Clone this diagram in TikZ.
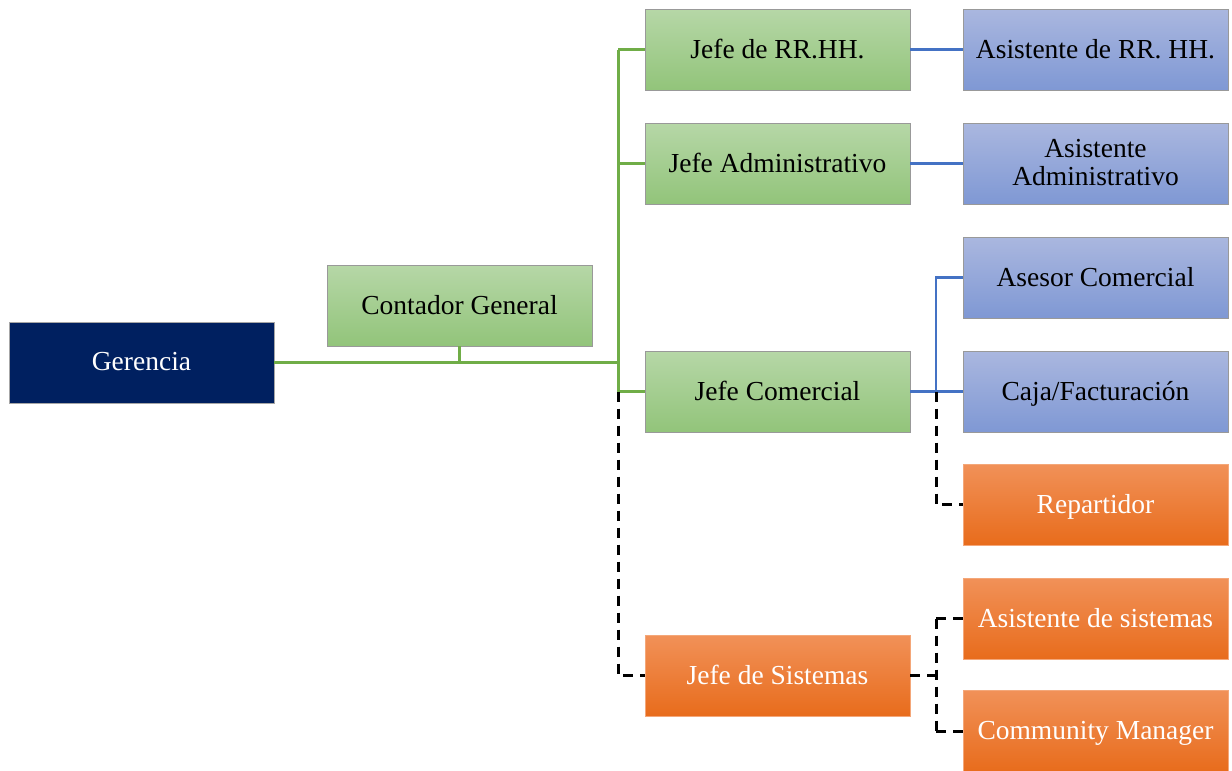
\documentclass[tikz,border=0pt]{standalone}
\usepackage{fontspec}
\setmainfont{Liberation Serif}
\begin{document}
\definecolor{gTop}{RGB}{182,215,167}
\definecolor{gBot}{RGB}{146,196,122}
\definecolor{bTop}{RGB}{170,183,223}
\definecolor{bBot}{RGB}{127,152,212}
\definecolor{oTop}{RGB}{241,145,88}
\definecolor{oBot}{RGB}{232,108,28}
\definecolor{navy}{RGB}{0,32,96}
\definecolor{gLine}{RGB}{112,173,71}
\definecolor{bLine}{RGB}{68,114,196}
\begin{tikzpicture}[x=1pt,y=-1pt,
  box/.style={minimum width=265pt,minimum height=81pt,inner sep=2pt,align=center,
    font=\fontsize{27.5}{30}\selectfont,text depth=2pt},
  greenbox/.style={box,draw=gray!80,line width=0.8pt,top color=gTop,bottom color=gBot,text=black},
  bluebox/.style={box,draw=gray!80,line width=0.8pt,top color=bTop,bottom color=bBot,text=black},
  orangebox/.style={box,draw=oTop!80,line width=0.6pt,top color=oTop,bottom color=oBot,text=white},
  navybox/.style={box,draw=gray!70,line width=0.8pt,fill=navy,text=white},
  gwire/.style={draw=gLine,line width=3pt},
  bwire/.style={draw=bLine,line width=2.4pt},
  dwire/.style={draw=black,line width=3pt,dash pattern=on 10pt off 7pt},
]
\useasboundingbox (0,0) rectangle (1232,771);

% boxes
\node[navybox]   (ger)    at (141.5,362.5) {Gerencia};
\node[greenbox]  (cont)   at (459.5,305.5) {Contador General};
\node[greenbox]  (rrhh)   at (777.5,49.5)  {Jefe de RR.HH.};
\node[greenbox]  (adm)    at (777.5,163.5) {Jefe Administrativo};
\node[greenbox]  (jcom)   at (777.5,391.5) {Jefe Comercial};
\node[orangebox] (jsis)   at (777.5,675.5) {Jefe de Sistemas};
\node[bluebox]   (arrhh)  at (1095.5,49.5)  {Asistente de RR. HH.};
\node[bluebox]   (aadm)   at (1095.5,163.5) {Asistente\\[-2pt]Administrativo};
\node[bluebox]   (asesor) at (1095.5,277.5) {Asesor Comercial};
\node[bluebox]   (caja)   at (1095.5,391.5) {Caja/Facturación};
\node[orangebox] (rep)    at (1095.5,504.5) {Repartidor};
\node[orangebox] (asis)   at (1095.5,618.5) {Asistente de sistemas};
\node[orangebox] (cm)     at (1095.5,731)   {Community Manager};

% vertical buses
\coordinate (bus) at (618,0);
\coordinate (bb)  at (936,0);

% green connectors
\draw[gwire] (ger.east) -- (ger.east -| bus);
\draw[gwire] (cont.south) -- (cont.south |- ger.east);
\draw[gwire] (bus |- rrhh.west) -- (bus |- jcom.west);
\draw[gwire] (bus |- rrhh.west) -- (rrhh.west);
\draw[gwire] (bus |- adm.west) -- (adm.west);
\draw[gwire] (bus |- jcom.west) -- (jcom.west);

% dashed link to systems
\draw[dwire] (bus |- jcom.west) -- (bus |- jsis.west) -- (jsis.west);

% blue connectors
\draw[bwire] (rrhh.east) -- (arrhh.west);
\draw[bwire] (adm.east) -- (aadm.west);
\draw[bwire] (jcom.east) -- (caja.west);
\draw[bwire] (bb |- caja.west) -- (bb |- asesor.west) -- (asesor.west);

% dashed sub-connectors
\draw[dwire] (bb |- caja.west) -- (bb |- rep.west) -- (rep.west);
\draw[dwire] (jsis.east) -- (bb |- jsis.east);
\draw[dwire] (bb |- asis.west) -- (bb |- cm.west);
\draw[dwire] (bb |- asis.west) -- (asis.west);
\draw[dwire] (bb |- cm.west) -- (cm.west);
\end{tikzpicture}
\end{document}
